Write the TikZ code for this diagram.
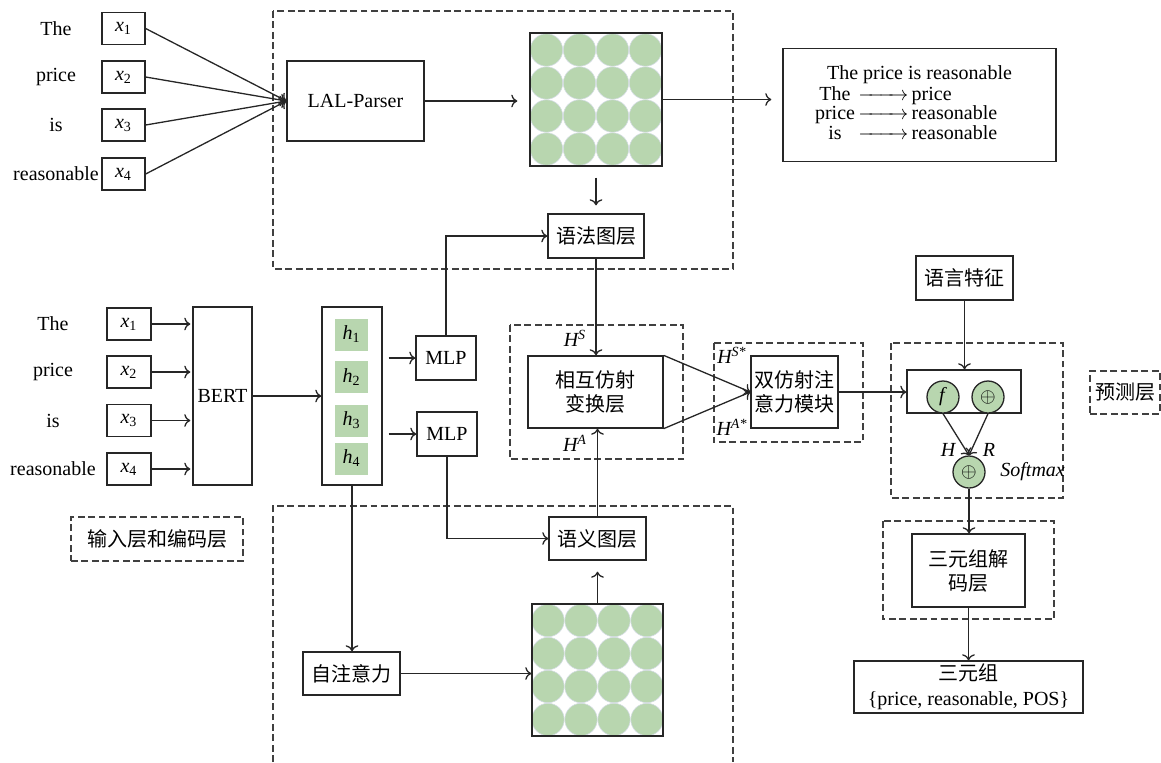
\documentclass[tikz,border=0pt]{standalone}
\usepackage{fontspec}
\setmainfont{Liberation Serif}
\newfontfamily\cjk{Noto Sans CJK SC}
\usetikzlibrary{arrows.meta,positioning,calc}
\definecolor{cellGreen}{HTML}{B8D6AF}
\definecolor{cellRim}{HTML}{D3DCE2}
\newdimen\px \px=0.5pt

\begin{document}
\begin{tikzpicture}[
    x=0.5pt, y=-0.5pt,
    font=\fontsize{10}{12}\selectfont,
    blk/.style args={#1/#2}{draw=black!85, line width=0.65pt, minimum width=#1\px, minimum height=#2\px, inner sep=0pt, align=center},
    tag/.style args={#1/#2}{draw=black!75, dash pattern=on 3.4pt off 1.8pt, line width=0.6pt, minimum width=#1\px, minimum height=#2\px, inner sep=0pt, align=center, font=\cjk},
    region/.style={draw=black!75, dash pattern=on 3.4pt off 1.8pt, line width=0.6pt},
    cell/.style={fill=cellGreen, minimum width=33\px, minimum height=32\px, inner sep=0pt},
    dot/.style={fill=cellGreen, draw=cellRim, line width=0.3pt},
    op/.style={circle, draw=black!85, fill=cellGreen, line width=0.65pt, minimum size=32\px, inner sep=0pt},
    lbl/.style={font=\fontsize{10}{12}\selectfont\itshape, inner sep=0pt},
    arrow/.style={->, line width=0.65pt, draw=black!85}
]
\useasboundingbox (0,0) rectangle (1161,762);

% dashed regions
\draw[region] (273,11) rectangle (733,269);
\draw[region] (273,762) -- (273,506) -- (733,506) -- (733,762);
\draw[region] (510,325) rectangle (683,459);
\draw[region] (714,343) rectangle (863,442);
\draw[region] (891,343) rectangle (1063,498);
\draw[region] (883,521) rectangle (1054,619);

% input words
\foreach \w/\ty/\by [count=\k] in {The/28.5/324, price/77/372, is/125/420.5, reasonable/174/469} {
  \node (tw\k) at (56,\ty) {\w};
  \node[blk=43/32] (tx\k) at (123.5,\ty) {\textit{x}\textsubscript{\k}};
  \node (bw\k) at (53,\by) {\w};
  \node[blk=44/32] (bx\k) at (129,\by) {\textit{x}\textsubscript{\k}};
}

% syntax branch
\node[blk=137/80] (lal) at (355.5,101) {LAL-Parser};
\coordinate (gtop) at (596,99.5);
\foreach \i in {0,...,3} \foreach \j in {0,...,3}
  \draw[dot] ($(gtop)+(-49.5+33*\i,-49.5+33*\j)$) circle (16.2);
\node[blk=132/133] (adjtop) at (gtop) {};
\node[blk=96/44, font=\cjk] (syn) at (596,236) {语法图层};
\node[blk=273/113] (res) at (919.5,105) {\renewcommand\arraystretch{0.76}%
  \begin{tabular}{@{}c@{\,}c@{\,}l@{}}
  \multicolumn{3}{c}{The price is reasonable}\\[1pt]
  The & \makebox[25pt]{\rightarrowfill} & price\\
  price & \makebox[25pt]{\rightarrowfill} & reasonable\\
  is & \makebox[25pt]{\rightarrowfill} & reasonable
  \end{tabular}};

% encoder
\node[blk=59/178] (bert) at (222.5,396) {BERT};
\node[blk=60/178] (hcol) at (352,396) {};
\foreach \hy [count=\k] in {334.5,377,420.5,458.5}
  \node[cell] (h\k) at (351.5,\hy) {\textit{h}\textsubscript{\k}};
\node[blk=60/44] (mlp1) at (446,358) {MLP};
\node[blk=60/44] (mlp2) at (447,434) {MLP};
\node[tag=172/44] (enclbl) at (157,539) {输入层和编码层};

% semantic branch
\node[blk=97/43, font=\cjk] (sem) at (597.5,538.5) {语义图层};
\node[blk=97/43, font=\cjk] (selfatt) at (351.5,673.5) {自注意力};
\coordinate (gbot) at (597.5,670);
\foreach \i in {0,...,3} \foreach \j in {0,...,3}
  \draw[dot] ($(gbot)+(-49.5+33*\i,-49.5+33*\j)$) circle (16.2);
\node[blk=131/132] (adjbot) at (gbot) {};

% fusion
\node[blk=135/72, font=\cjk, text width=60pt] (mutual) at (595.5,392) {相互仿射\\变换层};
\node[blk=87/72, font=\cjk, text width=40pt] (biaff) at (794.5,392) {双仿射注\\意力模块};
\node[lbl] at (575,338) {H\textsuperscript{S}};
\node[lbl] at (575,443) {H\textsuperscript{A}};
\node[lbl] at (732,355) {H\textsuperscript{S*}};
\node[lbl] at (732,427) {H\textsuperscript{A*}};

% prediction
\node[blk=97/44, font=\cjk] (feat) at (964.5,278) {语言特征};
\node[blk=114/43] (fuse) at (964,391.5) {};
\node[op] (opf) at (943,397) {\textit{f}};
\node[op] (opsum) at (988,397) {$\oplus$};
\node[op] (opout) at (969,472) {$\oplus$};
\node[lbl] at (948,450) {H};
\node[lbl] at (989,450) {R};
\node[lbl, anchor=west] at (1000,472) {Softmax};
\node[tag=70/43] (predlbl) at (1125,392.5) {预测层};
\node[blk=113/73, font=\cjk, text width=50pt] (dec) at (968.5,570.5) {三元组解\\码层};
\node[blk=229/52, font=\fontsize{10}{12.5}\selectfont] (triple) at (968.5,687) {{\cjk 三元组}\\\{price, reasonable, POS\}};

% connectors
\foreach \k in {1,...,4} {
  \draw[arrow] (tx\k.east) -- (lal.west);
  \draw[arrow, shorten >=2\px] (bx\k.east) -- (bx\k.east -| bert.west);
}
\draw[arrow, shorten >=12\px] (lal.east) -- (lal.east -| adjtop.west);
\draw[arrow, shorten <=11\px, shorten >=8\px] (adjtop.south) -- (syn.north);
\draw[arrow, shorten >=11\px] (adjtop.east) -- (adjtop.east -| res.west);
\draw[arrow] (bert.east) -- (bert.east -| hcol.west);
\draw[arrow, shorten <=6\px] (mlp1.west -| hcol.east) -- (mlp1.west);
\draw[arrow, shorten <=6\px] (mlp2.west -| hcol.east) -- (mlp2.west);
\draw[arrow] (mlp1.north) |- (syn.west);
\draw[arrow] (mlp2.south) |- (sem.west);
\draw[arrow] (syn.south) -- (mutual.north -| syn.south);
\draw[arrow] (sem.north) -- (mutual.south -| sem.north);
\draw[arrow] (hcol.south) -- (selfatt.north -| hcol.south);
\draw[arrow] (selfatt.east) -- (selfatt.east -| adjbot.west);
\draw[arrow, shorten >=11\px] (adjbot.north) -- (sem.south -| adjbot.north);
\draw[arrow] (mutual.north east) -- (biaff.west);
\draw[arrow] (mutual.south east) -- (biaff.west);
\draw[arrow] (biaff.east) -- (biaff.east -| fuse.west);
\draw[arrow] (feat.south) -- (fuse.north -| feat.south);
\draw[arrow] (opf.south) -- (opout.north);
\draw[arrow] (opsum.south) -- (opout.north);
\draw[arrow] (opout.south) -- (dec.north -| opout.south);
\draw[arrow] (dec.south) -- (triple.north -| dec.south);
\end{tikzpicture}
\end{document}
